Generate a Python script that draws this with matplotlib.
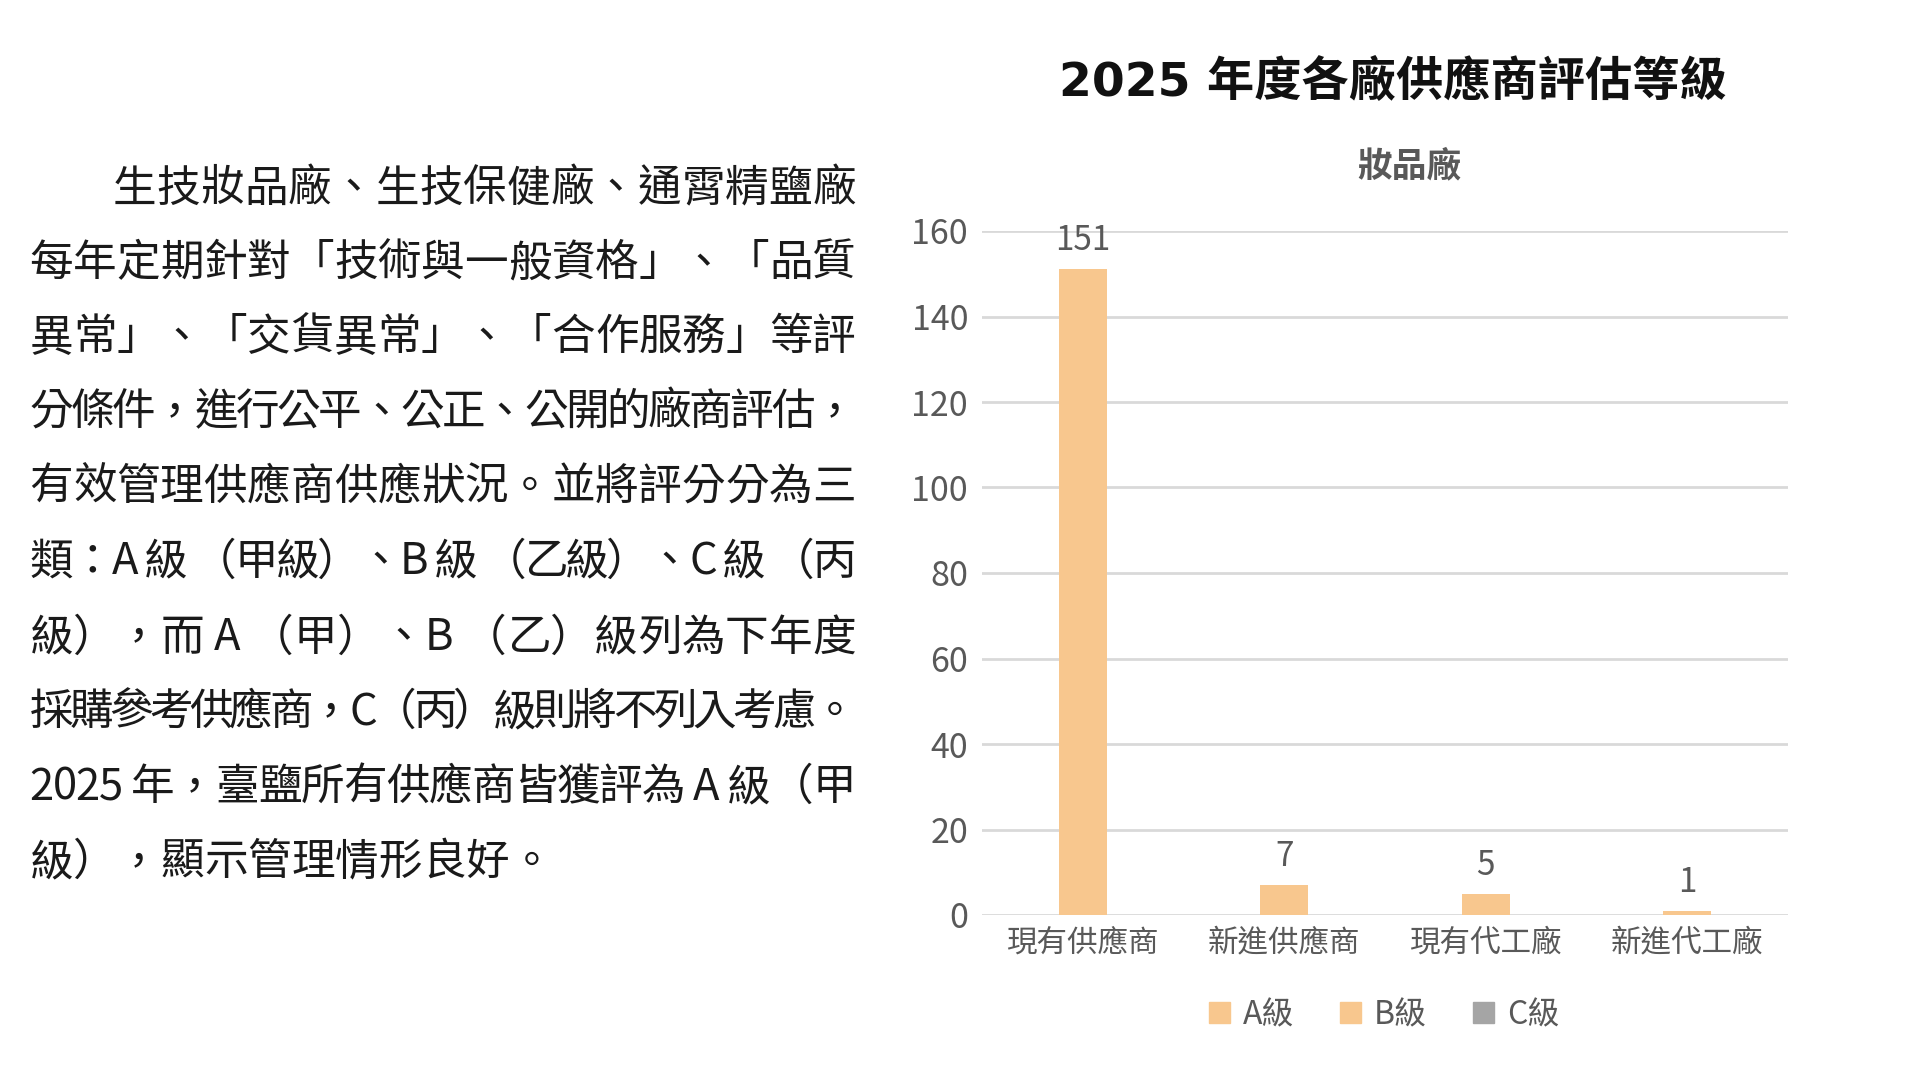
import matplotlib
matplotlib.use("Agg")
import matplotlib.pyplot as plt
from matplotlib.patches import Patch

# ---------------- data ----------------
categories = ["現有供應商", "新進供應商", "現有代工廠", "新進代工廠"]
grade_a = [151, 7, 5, 1]
grade_b = [0, 0, 0, 0]
grade_c = [0, 0, 0, 0]
series_names = ["A級", "B級", "C級"]
y_ticks = [0, 20, 40, 60, 80, 100, 120, 140, 160]

title = "2025 年度各廠供應商評估等級"
subtitle = "妝品廠"
body_lines = [
    "生技妝品廠、生技保健廠、通霄精鹽廠",
    "每年定期針對「技術與一般資格」、「品質",
    "異常」、「交貨異常」、「合作服務」等評",
    "分條件，進行公平、公正、公開的廠商評估，",
    "有效管理供應商供應狀況。並將評分分為三",
    "類：A 級 （甲級）、B 級 （乙級）、C 級 （丙",
    "級），而 A （甲）、B （乙）級列為下年度",
    "採購參考供應商，C（丙）級則將不列入考慮。",
    "2025 年，臺鹽所有供應商皆獲評為 A 級（甲",
    "級），顯示管理情形良好。",
]

# ---------------- style ----------------
FONT = ["Noto Sans CJK TC", "DejaVu Sans"]
plt.rcParams["font.family"] = FONT
W, H = 1923, 1080
DPI = 100
ORANGE = "#F8C78E"
GRAY = "#A5A5A5"
TXT = "#595959"
GRID = "#D9D9D9"

fig = plt.figure(figsize=(W / DPI, H / DPI), dpi=DPI)
fig.patch.set_facecolor("white")


def fx(px):
    return px / W


def fy(py):
    return 1 - py / H


# ---------------- chart ----------------
left, right, bottom, top = 982, 1788, 915, 231
ax = fig.add_axes([fx(left), fy(bottom), fx(right - left), (bottom - top) / H])
x = list(range(len(categories)))
bw = 0.238
ax.bar(x, grade_a, width=bw, color=ORANGE, label=series_names[0], zorder=3)
ax.bar(x, grade_b, width=bw, bottom=grade_a, color=ORANGE, label=series_names[1], zorder=3)
stack_ab = [a + b for a, b in zip(grade_a, grade_b)]
ax.bar(x, grade_c, width=bw, bottom=stack_ab, color=GRAY, label=series_names[2], zorder=3)

ax.set_xlim(-0.5, len(categories) - 0.5)
ax.set_ylim(0, 160)
ax.set_yticks(y_ticks)
ax.set_yticklabels([str(v) for v in y_ticks])
ax.set_xticks(x)
ax.set_xticklabels(categories)
for s in ax.spines.values():
    s.set_visible(False)
ax.grid(axis="y", color=GRID, linewidth=2, zorder=0)
ax.set_axisbelow(True)
ax.tick_params(axis="y", length=0, pad=10, labelsize=24.5, labelcolor=TXT)
ax.tick_params(axis="x", length=0, pad=9, labelsize=22, labelcolor=TXT)

for xi, a, b, c in zip(x, grade_a, grade_b, grade_c):
    total = a + b + c
    ax.annotate(str(total), (xi, total), xytext=(0, 8), textcoords="offset points",
                ha="center", va="bottom", fontsize=24, color=TXT)

handles = [Patch(color=ORANGE), Patch(color=ORANGE), Patch(color=GRAY)]
fig.legend(handles, series_names, loc="center", bbox_to_anchor=(fx(1384), fy(1015)),
           ncol=3, frameon=False, fontsize=23, handlelength=0.65, handleheight=0.65,
           handletextpad=0.4, columnspacing=1.45, labelcolor=TXT)

fig.text(fx(1393), fy(82), title, ha="center", va="center", fontsize=34,
         fontweight="heavy", color="#111111", family=["DejaVu Sans", "Noto Sans CJK TC"])
fig.text(fx(1409), fy(166), subtitle, ha="center", va="center", fontsize=25,
         fontweight="bold", color=TXT)

# ---------------- body text (justified) ----------------
renderer = fig.canvas.get_renderer()
BODY_FS = 31.4
BODY_COLOR = "#1A1A1A"
text_left, text_right = 29.5, 856
indent = 83.5
line_centres = [186.5, 261, 335, 410, 485, 559.5, 635.5, 710, 785, 860]

probe = fig.text(0, 0, "||", fontsize=BODY_FS)
base_w = probe.get_window_extent(renderer).width


def char_width(ch):
    probe.set_text("|" + ch + "|")
    return probe.get_window_extent(renderer).width - base_w


for i, line in enumerate(body_lines):
    start = text_left + (indent if i == 0 else 0)
    chars = list(line)
    widths = [char_width(c) for c in chars]
    natural = sum(widths)
    last = i == len(body_lines) - 1
    gap = 0 if last else (text_right - start - natural) / max(len(chars) - 1, 1)
    cx = start
    base_y = line_centres[i] + 15
    for ch, w in zip(chars, widths):
        if ch != " ":
            fig.text(fx(cx), fy(base_y), ch, fontsize=BODY_FS, color=BODY_COLOR,
                     ha="left", va="baseline")
        cx += w + gap

probe.remove()

fig.savefig("out.png", dpi=DPI, facecolor="white")
